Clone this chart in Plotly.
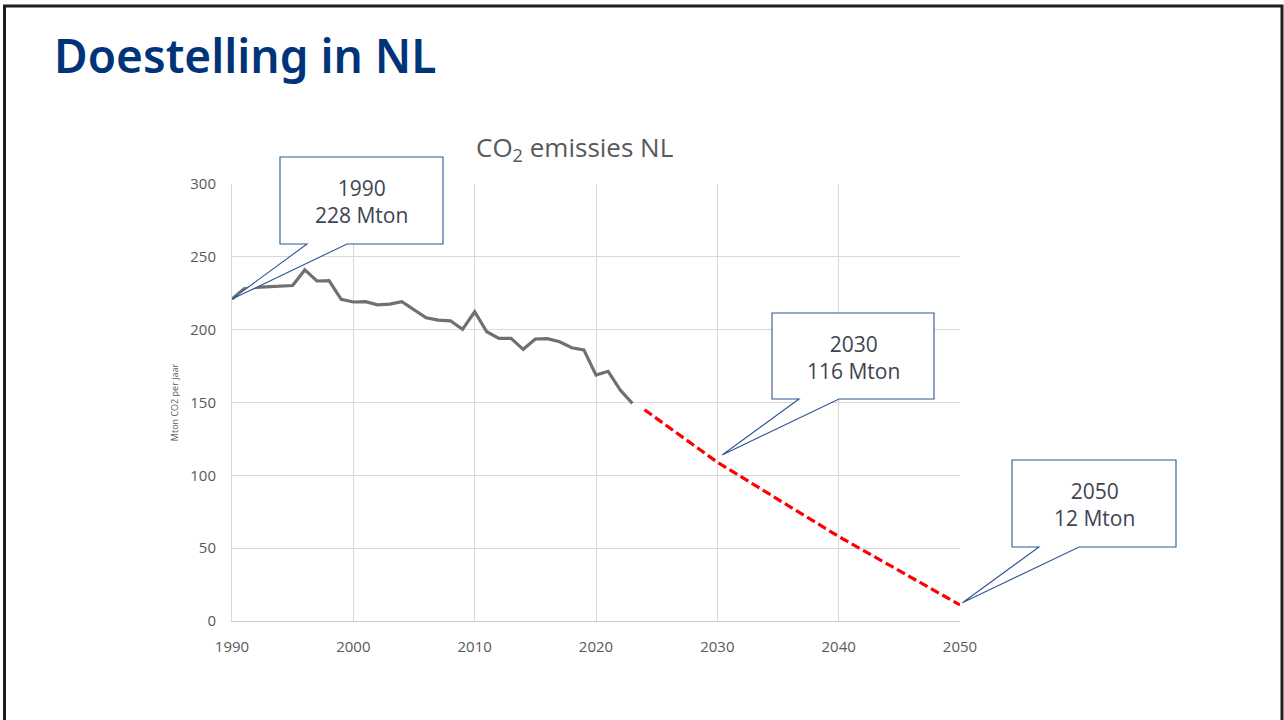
import plotly.graph_objects as go

# ---- data ----
hist_years = list(range(1990, 2024))
hist_values = [221, 228, 229, 229.5, 230, 230.3, 241, 233.4, 233.6, 220.8,
               219, 219.2, 217, 217.5, 219.2, 213.5, 208.2, 206.6, 206.1, 200.2,
               212.3, 198.6, 194, 194, 186.5, 193.6, 193.8, 191.7, 187.6, 186.1,
               168.8, 171.4, 158.5, 149.4]
target_years = [2024, 2030, 2040, 2050]
target_values = [145, 109, 58, 11]

x_ticks = [1990, 2000, 2010, 2020, 2030, 2040, 2050]
y_ticks = [0, 50, 100, 150, 200, 250, 300]

callout_texts = ["1990<br>228 Mton", "2030<br>116 Mton", "2050<br>12 Mton"]
callout_tips = [(1990, 221), (2030.4, 114), (2050.2, 12.5)]

# ---- layout geometry (pixels) ----
FW, FH = 1284, 720
L, R, T, B = 232, 960, 184, 621
PW, PH = R - L, B - T
XR = (1990, 2050)
YR = (0, 300)


def px2paper_x(p):
    return (p - L) / PW


def px2paper_y(p):
    return (B - p) / PH


def data2px(xv, yv):
    return (L + (xv - XR[0]) / (XR[1] - XR[0]) * PW,
            B - (yv - YR[0]) / (YR[1] - YR[0]) * PH)


callout_boxes = [(280, 157, 443, 244), (772, 313, 934, 399), (1012, 460, 1176, 547)]

fig = go.Figure()
fig.add_trace(go.Scatter(x=hist_years, y=hist_values, mode="lines",
                         line=dict(color="#707070", width=3.2), showlegend=False))
fig.add_trace(go.Scatter(x=target_years, y=target_values, mode="lines",
                         line=dict(color="#FF0000", width=3.2, dash="9px,4px"),
                         showlegend=False))

shapes = []
annotations = []

# slide border
shapes.append(dict(type="rect", xref="paper", yref="paper",
                   x0=px2paper_x(4.5), x1=px2paper_x(1282), y0=px2paper_y(745), y1=px2paper_y(6),
                   line=dict(color="#1e1e1e", width=3), fillcolor="rgba(0,0,0,0)", layer="above"))

for (x0, y0, x1, y1), (tx, ty), txt in zip(callout_boxes, callout_tips, callout_texts):
    tpx, tpy = data2px(tx, ty)
    pts = [(x0, y0), (x1, y0), (x1, y1), (x0 + 67, y1), (tpx, tpy), (x0 + 27, y1), (x0, y1)]
    path = "M " + " L ".join(f"{px2paper_x(a):.5f},{px2paper_y(b):.5f}" for a, b in pts) + " Z"
    shapes.append(dict(type="path", xref="paper", yref="paper", path=path,
                       fillcolor="white", line=dict(color="#2F5597", width=1.1), layer="above"))
    annotations.append(dict(xref="paper", yref="paper",
                            x=px2paper_x((x0 + x1) / 2), y=px2paper_y((y0 + y1) / 2 + 1),
                            text=txt, showarrow=False, xanchor="center", yanchor="middle",
                            font=dict(family="Open Sans", size=21, color="#404452")))

# slide title
annotations.append(dict(xref="paper", yref="paper", x=px2paper_x(52), y=px2paper_y(55),
                        text="Doestelling in NL", showarrow=False, xanchor="left", yanchor="middle",
                        font=dict(family="Noto Sans", size=46, color="#003479", weight=600)))
# chart title
annotations.append(dict(xref="paper", yref="paper", x=px2paper_x(574), y=px2paper_y(148),
                        text="CO<sub>2</sub> emissies NL", showarrow=False, xanchor="center",
                        yanchor="middle",
                        font=dict(family="Open Sans", size=26, color="#595959")))

fig.update_layout(
    width=FW, height=FH,
    margin=dict(l=L, r=FW - R, t=T, b=FH - B, pad=0),
    paper_bgcolor="white", plot_bgcolor="white",
    shapes=shapes, annotations=annotations,
    xaxis=dict(range=list(XR), tickvals=x_ticks, showgrid=True, gridcolor="#D9D9D9", gridwidth=1,
               zeroline=False, showline=True, linecolor="#C8C8C8", linewidth=1, mirror=False,
               ticks="", tickfont=dict(family="Open Sans", size=15, color="#595959"),
               ticklabelstandoff=12),
    yaxis=dict(range=list(YR), tickvals=y_ticks, showgrid=True, gridcolor="#D9D9D9", gridwidth=1,
               zeroline=False, showline=True, linecolor="#D9D9D9", linewidth=1,
               ticks="", tickfont=dict(family="Open Sans", size=15, color="#595959"),
               ticklabelstandoff=12,
               title=dict(text="Mton CO2 per jaar", standoff=10,
                          font=dict(family="Open Sans", size=9, color="#595959"))),
)

fig.write_html("out.html", config={"displayModeBar": False},
               post_script="document.body.style.margin='0';document.body.style.overflow='hidden';")
